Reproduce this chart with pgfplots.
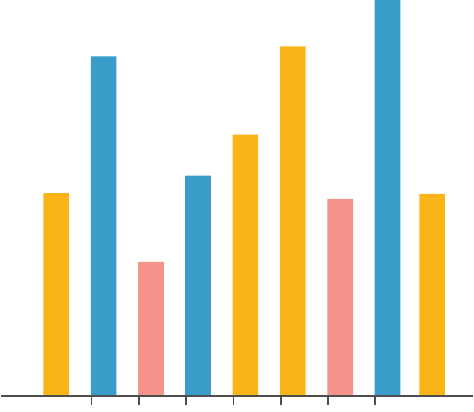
\documentclass[border=0pt]{standalone}
\usepackage{pgfplots}
\pgfplotsset{compat=1.18}
\definecolor{cyellow}{HTML}{FBB417}
\definecolor{cblue}{HTML}{3A9CC9}
\definecolor{cpink}{HTML}{F4938A}
\definecolor{cline}{HTML}{4D4D4D}
\begin{document}
\begin{tikzpicture}
\begin{axis}[
  scale only axis,
  width=474bp, height=398bp,
  xmin=0, xmax=474, ymin=0, ymax=398,
  ybar, bar width=25.7,
  hide y axis,
  axis x line=bottom,
  axis line style={-, line width=2.6bp, color=cline},
  xtick={90.7,138.5,186,233.5,281,328.7,375.8},
  xticklabels={},
  tick align=outside,
  major tick length=9bp,
  x tick style={color=cline, line width=1.6bp},
  clip=false,
]
\addplot[bar shift=0pt, fill=cyellow, draw=none] coordinates {(55.2,203.7) (245.5,262.7) (293.2,351.3) (433.2,203)};
\addplot[bar shift=0pt, fill=cblue, draw=none] coordinates {(102.8,341.3) (197.8,221.3) (388.3,398)};
\addplot[bar shift=0pt, fill=cpink, draw=none] coordinates {(150.5,134.7) (340.8,198)};
% baseline
\addplot[sharp plot, draw=cline, line width=2.6bp, no marks] coordinates {(0,0) (474,0)};
\end{axis}
\end{tikzpicture}
\end{document}
